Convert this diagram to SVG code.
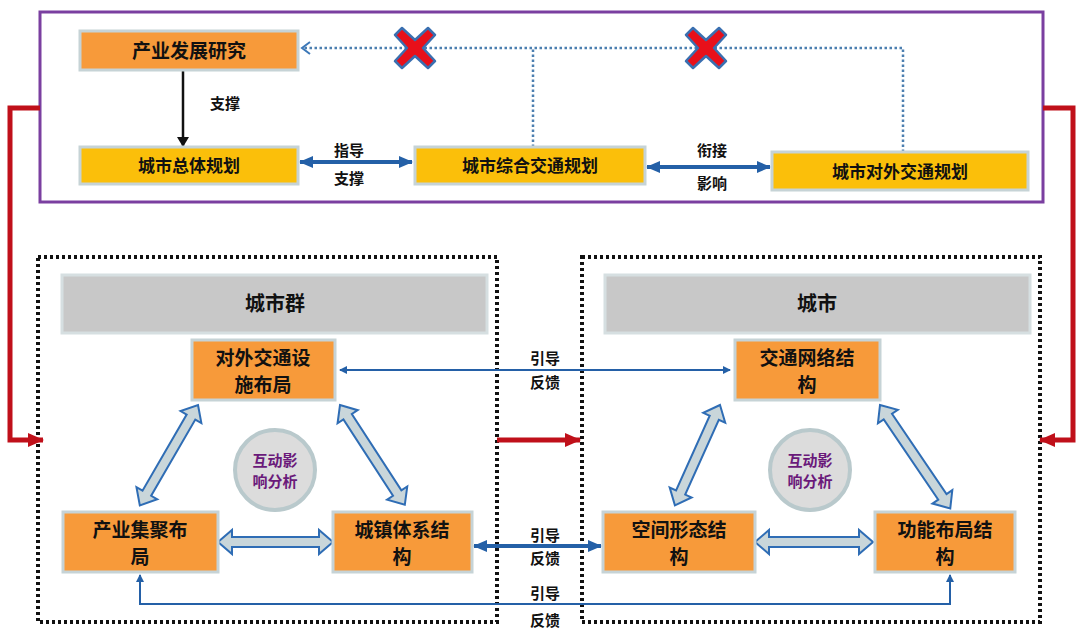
<svg xmlns="http://www.w3.org/2000/svg" width="1080" height="641" viewBox="0 0 1080 641">
<style>
text{font-family:"Noto Sans CJK SC","Noto Sans",sans-serif;font-weight:bold;text-anchor:middle;fill:#111}
.or{fill:#f79a3a;stroke:#c6d3d6;stroke-width:3}
.gd{fill:#fbbf0a;stroke:#c6d3d6;stroke-width:3}
.hd{fill:#c8c8c8;stroke:#d6dfe1;stroke-width:3}
.nt{font-size:19px}
.lb{font-size:15px}
.ha{fill:#c9d6da;stroke:#2f6db5;stroke-width:2}
.dot{fill:none;stroke:#111;stroke-width:4;stroke-dasharray:3 3}
.red{fill:none;stroke:#c0101a;stroke-width:5}
.bl{fill:none;stroke:#2460a7;stroke-width:2}
.dl{fill:none;stroke:#4c7fb0;stroke-width:2.5;stroke-dasharray:2.5 2.5}
</style>
<defs>
<marker id="bh" markerWidth="8" markerHeight="8" refX="7" refY="4" orient="auto-start-reverse" markerUnits="userSpaceOnUse"><path d="M0,0 L8,4 L0,8 Z" fill="#2460a7"/></marker>
<marker id="bh2" markerWidth="14" markerHeight="12" refX="13" refY="6" orient="auto-start-reverse" markerUnits="userSpaceOnUse"><path d="M0,0 L14,6 L0,12 Z" fill="#2460a7"/></marker>
<marker id="kh" markerWidth="10" markerHeight="12" refX="9" refY="6" orient="auto" markerUnits="userSpaceOnUse"><path d="M0,0 L10,6 L0,12 Z" fill="#111"/></marker>
<marker id="rh" markerWidth="16" markerHeight="14" refX="15" refY="7" orient="auto" markerUnits="userSpaceOnUse"><path d="M0,0 L16,7 L0,14 Z" fill="#c0101a"/></marker>
<marker id="oh" markerWidth="12" markerHeight="14" refX="10" refY="7" orient="auto" markerUnits="userSpaceOnUse"><path d="M2,1 L10,7 L2,13" fill="none" stroke="#3c78b8" stroke-width="2"/></marker>
<g id="X"><path d="M-13,-20 L0,-8 L13,-20 L20,-13 L8,0 L20,13 L13,20 L0,8 L-13,20 L-20,13 L-8,0 L-20,-13 Z" fill="#e8101a" stroke="#3a6fb0" stroke-width="2.5" stroke-linejoin="round"/></g>
</defs>
<rect width="1080" height="641" fill="#fff"/>
<rect x="40" y="12" width="1003" height="190" fill="none" stroke="#7a3fa0" stroke-width="3"/>
<rect x="38" y="257" width="459" height="365" class="dot"/>
<rect x="582" y="257" width="458" height="365" class="dot"/>
<g id="connectors">
<path class="red" d="M40,108 H10 V440 H43" marker-end="url(#rh)"/>
<path class="red" d="M1043,108 H1073 V440 H1040" marker-end="url(#rh)"/>
<path class="red" d="M497,440 H580" marker-end="url(#rh)"/>
<line x1="183" y1="70" x2="183" y2="146" stroke="#111" stroke-width="2.5" marker-end="url(#kh)"/>
<line x1="300" y1="162" x2="412" y2="162" stroke="#2460a7" stroke-width="4" marker-start="url(#bh2)" marker-end="url(#bh2)"/>
<line x1="647" y1="167" x2="770" y2="167" stroke="#2460a7" stroke-width="4" marker-start="url(#bh2)" marker-end="url(#bh2)"/>
<path class="dl" d="M533,147 V48 H302" marker-end="url(#oh)"/>
<path class="dl" d="M903,152 V48 H533"/>
<use href="#X" x="415" y="48"/>
<use href="#X" x="706" y="48"/>
<line class="bl" x1="340" y1="370" x2="730" y2="370" marker-start="url(#bh)" marker-end="url(#bh)"/>
<line x1="474" y1="546" x2="601" y2="546" stroke="#2460a7" stroke-width="4" marker-start="url(#bh2)" marker-end="url(#bh2)"/>
<path class="bl" d="M140,575 V604 H950 V575" marker-start="url(#bh)" marker-end="url(#bh)"/>
<g transform="translate(198,405) rotate(120.1)"><path class="ha" d="M0,0 L14,-12 L14,-5 L102,-5 L102,-12 L116,0 L102,12 L102,5 L14,5 L14,12 Z"/></g>
<g transform="translate(340,405) rotate(57)"><path class="ha" d="M0,0 L14,-12 L14,-5 L105,-5 L105,-12 L119,0 L105,12 L105,5 L14,5 L14,12 Z"/></g>
<g transform="translate(218,542)"><path class="ha" d="M0,0 L14,-12 L14,-5 L101,-5 L101,-12 L115,0 L101,12 L101,5 L14,5 L14,12 Z"/></g>
<g transform="translate(720,405) rotate(114.2)"><path class="ha" d="M0,0 L14,-12 L14,-5 L96,-5 L96,-12 L110,0 L96,12 L96,5 L14,5 L14,12 Z"/></g>
<g transform="translate(880,405) rotate(55.8)"><path class="ha" d="M0,0 L14,-12 L14,-5 L111,-5 L111,-12 L125,0 L111,12 L111,5 L14,5 L14,12 Z"/></g>
<g transform="translate(755,542)"><path class="ha" d="M0,0 L14,-12 L14,-5 L104,-5 L104,-12 L118,0 L104,12 L104,5 L14,5 L14,12 Z"/></g>
</g>
<g>
<text x="225" y="109" class="lb">支撑</text>
<text x="349" y="156" class="lb">指导</text>
<text x="349" y="184" class="lb">支撑</text>
<text x="712" y="156" class="lb">衔接</text>
<text x="712" y="189" class="lb">影响</text>
<text x="545" y="364" class="lb">引导</text>
<text x="545" y="388" class="lb">反馈</text>
<text x="545" y="541" class="lb">引导</text>
<text x="545" y="564" class="lb">反馈</text>
<text x="545" y="599" class="lb">引导</text>
<text x="545" y="626" class="lb">反馈</text>
</g>
<g id="n1"><rect class="or" x="80" y="31" width="218" height="39"/><text class="nt" x="189" y="58">产业发展研究</text></g>
<g id="n2"><rect class="gd" x="80" y="147" width="218" height="37"/><text x="189" y="172" style="font-size:17px">城市总体规划</text></g>
<g id="n3"><rect class="gd" x="415" y="147" width="230" height="37"/><text x="530" y="172" style="font-size:17px">城市综合交通规划</text></g>
<g id="n4"><rect class="gd" x="772" y="152" width="256" height="38"/><text x="900" y="178" style="font-size:17px">城市对外交通规划</text></g>
<g id="h1"><rect class="hd" x="62" y="275" width="425" height="58"/><text x="275" y="311" style="font-size:20px">城市群</text></g>
<g id="h2"><rect class="hd" x="605" y="275" width="425" height="58"/><text x="817" y="311" style="font-size:20px">城市</text></g>
<g id="b1"><rect class="or" x="192" y="340" width="143" height="60"/><text class="nt" x="263" y="365">对外交通设</text><text class="nt" x="263" y="392">施布局</text></g>
<g id="b2"><rect class="or" x="63" y="512" width="155" height="60"/><text class="nt" x="140" y="537">产业集聚布</text><text class="nt" x="140" y="564">局</text></g>
<g id="b3"><rect class="or" x="333" y="512" width="139" height="60"/><text class="nt" x="402" y="537">城镇体系结</text><text class="nt" x="402" y="564">构</text></g>
<g id="b4"><rect class="or" x="735" y="340" width="145" height="60"/><text class="nt" x="807" y="365">交通网络结</text><text class="nt" x="807" y="392">构</text></g>
<g id="b5"><rect class="or" x="603" y="512" width="152" height="60"/><text class="nt" x="679" y="537">空间形态结</text><text class="nt" x="679" y="564">构</text></g>
<g id="b6"><rect class="or" x="875" y="512" width="140" height="60"/><text class="nt" x="945" y="537">功能布局结</text><text class="nt" x="945" y="564">构</text></g>
<g id="c1"><circle cx="275" cy="470" r="40" fill="#dcdcdc" stroke="#b9c9cc" stroke-width="4"/><text x="275" y="466" style="font-size:15px;fill:#6a1a7a">互动影</text><text x="275" y="487" style="font-size:15px;fill:#6a1a7a">响分析</text></g>
<g id="c2"><circle cx="810" cy="470" r="40" fill="#dcdcdc" stroke="#b9c9cc" stroke-width="4"/><text x="810" y="466" style="font-size:15px;fill:#6a1a7a">互动影</text><text x="810" y="487" style="font-size:15px;fill:#6a1a7a">响分析</text></g>
</svg>
